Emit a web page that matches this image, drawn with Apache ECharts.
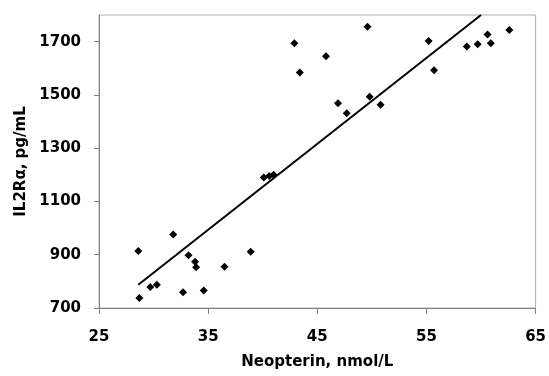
<!DOCTYPE html>
<html>
<head>
<meta charset="utf-8">
<script src="https://cdn.jsdelivr.net/npm/echarts@6/dist/echarts.min.js"></script>
<style>
  html, body { margin: 0; padding: 0; background: #fff; }
  #chart { width: 549px; height: 376px; }
</style>
</head>
<body>
<div id="chart"></div>
<script>
// scatter points: [neopterin nmol/L, IL2Ra pg/mL]
const points = [
  [28.6, 914], [28.7, 738], [29.7, 779], [30.3, 787], [31.8, 976],
  [32.7, 759], [33.2, 898], [33.8, 874], [33.9, 853], [34.6, 766],
  [36.5, 855], [38.9, 911], [40.1, 1190], [40.6, 1196], [41.0, 1200],
  [42.9, 1694], [43.4, 1584], [45.8, 1645], [46.9, 1469], [47.7, 1431],
  [49.6, 1756], [49.8, 1493], [50.8, 1463], [55.2, 1702], [55.7, 1593],
  [58.7, 1682], [59.7, 1690], [60.6, 1727], [60.9, 1694], [62.6, 1744]
];
// regression line end points
const fitLine = [[28.6, 787], [60.0, 1800]];
const xTicks = [25, 35, 45, 55, 65];
const yTicks = [700, 900, 1100, 1300, 1500, 1700];

const font = "DejaVu Sans";
const chart = echarts.init(document.getElementById("chart"), null, { renderer: "canvas" });

chart.setOption({
  animation: false,
  backgroundColor: "#fff",
  grid: {
    left: 99, right: 9, top: 15, bottom: 68,
    show: true, borderColor: "#b0b0b0", borderWidth: 1
  },
  xAxis: {
    type: "value",
    min: 25, max: 65, interval: 10,
    name: "Neopterin, nmol/L",
    nameLocation: "middle",
    nameGap: 47,
    nameTextStyle: { fontFamily: font, fontWeight: "bold", fontSize: 15, color: "#000" },
    axisLine: { show: true, lineStyle: { color: "#808080", width: 1 } },
    axisTick: { show: true, length: 6, customValues: xTicks, lineStyle: { color: "#808080" } },
    axisLabel: {
      customValues: xTicks, margin: 22,
      formatter: (v) => String(v),
      fontFamily: font, fontWeight: "bold", fontSize: 15, color: "#000"
    },
    splitLine: { show: false }
  },
  yAxis: {
    type: "value",
    min: 700, max: 1800, interval: 200,
    name: "IL2R\u03b1, pg/mL",
    nameLocation: "middle",
    nameGap: 67,
    nameTextStyle: { fontFamily: font, fontWeight: "bold", fontSize: 15, color: "#000" },
    axisLine: { show: true, lineStyle: { color: "#808080", width: 1 } },
    axisTick: { show: true, length: 5, customValues: yTicks, lineStyle: { color: "#808080" } },
    axisLabel: {
      customValues: yTicks, margin: 18,
      formatter: (v) => String(v),
      fontFamily: font, fontWeight: "bold", fontSize: 15, color: "#000"
    },
    splitLine: { show: false }
  },
  series: [
    {
      type: "scatter",
      data: points,
      symbol: "diamond",
      symbolSize: 8,
      itemStyle: { color: "#000", opacity: 1 },
      z: 3
    },
    {
      type: "line",
      data: fitLine,
      symbol: "none",
      lineStyle: { color: "#000", width: 2 },
      z: 2
    }
  ]
});
</script>
</body>
</html>
